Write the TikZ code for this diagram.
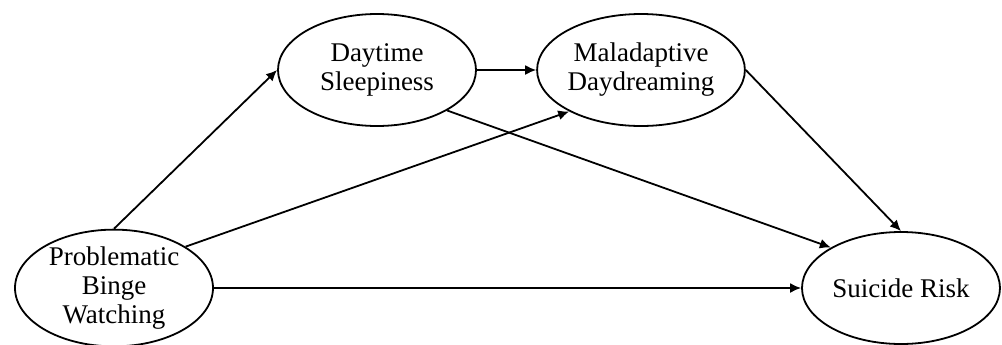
\documentclass[tikz,border=0pt]{standalone}
\usepackage{fontspec}
\setmainfont{Liberation Serif}
\usetikzlibrary{arrows.meta,positioning,shapes.geometric}
\tikzset{
  var/.style={ellipse,draw,line width=0.9pt,minimum width=99pt,
    minimum height=56pt,inner sep=0pt,align=center,
    font=\fontsize{13.5}{14.5}\selectfont},
  arr/.style={-{Latex[length=5.5pt,width=5pt]},line width=0.9pt}
}
\begin{document}
\begin{tikzpicture}[on grid]
  \useasboundingbox (-57pt,-28pt) rectangle (444pt,144pt);
  \node[var] (pbw) {Problematic\\Binge\\Watching};
  \node[var,above right=109pt and 131.5pt of pbw] (ds) {Daytime\\Sleepiness};
  \node[var,right=132pt of ds] (md) {Maladaptive\\Daydreaming};
  \node[var,right=393.5pt of pbw] (sr) {Suicide Risk};
  \draw[arr] (pbw.north) -- (ds.west);
  \draw[arr] (pbw.30) -- (md.210);
  \draw[arr] (pbw.east) -- (sr.west);
  \draw[arr] (ds.east) -- (md.west);
  \draw[arr] (ds.-30) -- (sr.150);
  \draw[arr] (md.east) -- (sr.north);
\end{tikzpicture}
\end{document}
